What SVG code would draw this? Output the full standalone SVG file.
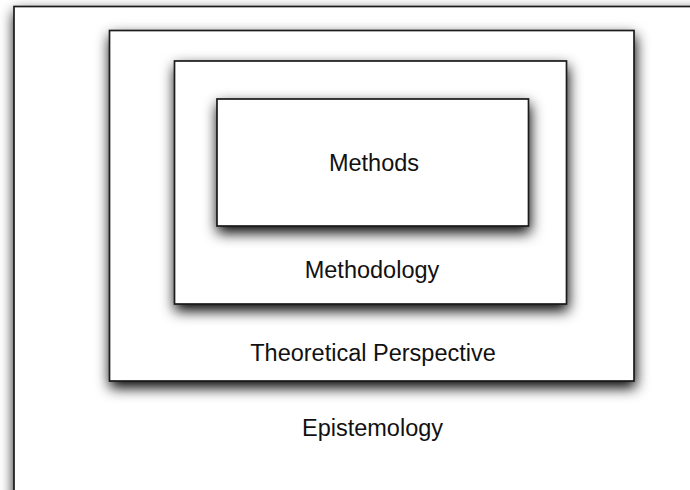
<svg xmlns="http://www.w3.org/2000/svg" width="690" height="490" viewBox="0 0 690 490">
  <defs>
    <filter id="shadow" x="-20%" y="-20%" width="140%" height="150%">
      <feDropShadow dx="1" dy="6" stdDeviation="7" flood-color="#000" flood-opacity="1"/>
    </filter>
    <style>
      .box { fill: #fff; stroke: #1a1a1a; stroke-width: 1.7; filter: url(#shadow); }
      .label { font-family: "Liberation Sans", Arial, sans-serif; font-size: 23.5px; fill: #111; text-anchor: middle; }
    </style>
  </defs>
  <rect width="690" height="490" fill="#fff"/>

  <!-- nested layers, outermost first -->
  <g id="epistemology">
    <rect class="box" x="14" y="6.5" width="700" height="520"/>
    <text class="label" x="372.5" y="436">Epistemology</text>
  </g>
  <g id="theoretical-perspective">
    <rect class="box" x="109.5" y="30.5" width="524.5" height="350.5"/>
    <text class="label" x="373" y="361">Theoretical Perspective</text>
  </g>
  <g id="methodology">
    <rect class="box" x="174.5" y="61" width="392" height="243"/>
    <text class="label" x="372" y="278">Methodology</text>
  </g>
  <g id="methods">
    <rect class="box" x="217" y="99" width="311.5" height="127"/>
    <text class="label" x="374" y="171">Methods</text>
  </g>
</svg>
